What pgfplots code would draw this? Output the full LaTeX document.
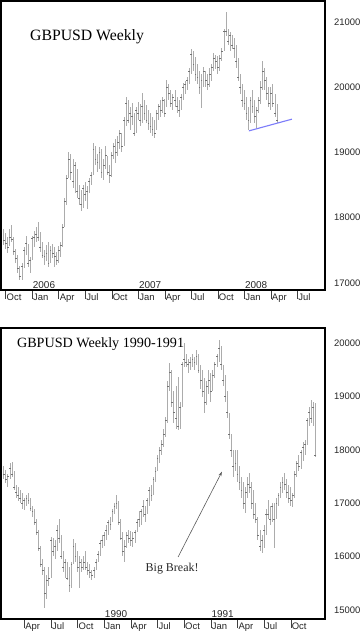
\documentclass[border=0pt]{standalone}
\usepackage{pgfplots}
\pgfplotsset{compat=1.18}
\usepackage{pgfplotstable}
\usepackage{fontspec}
\setmainfont{Liberation Serif}
\newfontfamily\arial{Liberation Sans}
\usetikzlibrary{arrows.meta}

\pgfplotstableread{
w h l c
-14 17820 17580 17650
-13 17760 17520 17600
-12 17700 17450 17550
-11 17820 17560 17700
-10 17890 17620 17660
-9 17700 17420 17480
-8 17520 17300 17380
-7 17420 17150 17220
-6 17260 17040 17100
-5 17300 17050 17250
-4 17550 17230 17500
-3 17720 17420 17600
-2 17600 17250 17300
-1 17400 17150 17350
0 17720 17350 17680
1 17800 17550 17700
2 17860 17620 17750
3 17930 17640 17700
4 17780 17480 17550
5 17620 17380 17420
6 17500 17280 17400
7 17580 17330 17450
8 17620 17240 17300
9 17560 17300 17500
10 17600 17380 17450
11 17550 17250 17400
12 17480 17280 17350
13 17560 17300 17500
14 17620 17400 17580
15 17900 17550 17850
16 18300 17850 18250
17 18650 18200 18600
18 19000 18600 18900
19 18980 18580 18700
20 18900 18450 18550
21 18850 18380 18800
22 18750 18300 18400
23 18500 18200 18300
24 18420 18100 18200
25 18500 18150 18450
26 18550 18250 18350
27 18480 18130 18400
28 18600 18380 18550
29 18700 18500 18650
30 19150 18650 19050
31 19100 18800 18900
32 18980 18700 18850
33 19080 18750 19000
34 19050 18600 18700
35 18900 18580 18800
36 19100 18750 18950
37 18950 18650 18700
38 18800 18530 18650
39 19000 18620 18950
40 19150 18900 19100
41 19200 18840 19000
42 19250 18950 19150
43 19350 19050 19300
44 19300 19000 19100
45 19550 19100 19500
46 19850 19400 19750
47 19800 19450 19500
48 19700 19350 19600
49 19760 19420 19550
50 19600 19250 19300
51 19700 19300 19650
52 19780 19500 19600
53 19750 19400 19500
54 19910 19450 19700
55 19800 19500 19600
56 19720 19450 19500
57 19650 19350 19450
58 19600 19300 19400
59 19550 19250 19350
60 19500 19220 19300
61 19650 19350 19600
62 19750 19500 19700
63 19800 19550 19650
64 19850 19600 19800
65 19820 19550 19600
66 20110 19700 20000
67 20050 19800 19900
68 19950 19700 19750
69 19900 19650 19850
70 19950 19700 19800
71 19850 19600 19700
72 19800 19550 19650
73 19900 19650 19850
74 20060 19800 20000
75 20100 19900 20050
76 20150 19950 20100
77 20300 20050 20250
78 20590 20200 20500
79 20550 20250 20350
80 20460 20100 20200
81 20350 20050 20150
82 20250 19900 20000
83 20200 19680 20100
84 20310 20000 20250
85 20250 20000 20100
86 20200 19950 20050
87 20300 20000 20200
88 20350 20100 20300
89 20520 20250 20450
90 20500 20280 20400
91 20480 20200 20300
92 20500 20250 20450
93 20600 20400 20550
94 20900 20550 20850
95 21150 20780 20850
96 20900 20650 20700
97 20850 20550 20800
98 20800 20580 20650
99 20750 20450 20600
100 20650 20300 20400
101 20450 20100 20150
102 20200 19900 20000
103 20050 19700 19800
104 19950 19650 19750
105 19850 19500 19600
106 19700 19340 19500
107 19850 19450 19800
108 19960 19600 19700
109 19800 19450 19550
110 19700 19370 19650
111 19850 19600 19800
112 20100 19750 20000
113 20400 19950 20250
114 20300 19950 20100
115 20150 19800 19900
116 20000 19700 19750
117 20000 19650 19900
118 20050 19700 19750
119 19900 19550 19600
120 19750 19450 19500
}\topdata

\pgfplotstableread{
w h l c
-49 17700 17450 17550
-48 17620 17380 17450
-47 17550 17300 17500
-46 17750 17450 17650
-45 17770 17500 17550
-44 17600 17250 17300
-43 17350 17100 17200
-42 17300 17050 17150
-41 17250 17000 17100
-40 17200 16900 17000
-39 17100 16870 17050
-38 17150 16950 17100
-37 17190 16980 17050
-36 17100 16850 16900
-35 16950 16750 16850
-34 16900 16600 16650
-33 16700 16400 16450
-32 16500 16100 16150
-31 16200 15800 15850
-30 15950 15650 15750
-29 15800 15030 15300
-28 15650 15200 15550
-27 15800 15450 15600
-26 16370 15600 16300
-25 16350 16000 16100
-24 16300 15950 16200
-23 16600 16100 16500
-22 16710 16250 16350
-21 16400 15950 16000
-20 16100 15700 15800
-19 15950 15600 15900
-18 15900 15550 15600
-17 15800 15330 15450
-16 15900 15400 15850
-15 16330 15850 16200
-14 16250 15900 16000
-13 16100 15700 15800
-12 16000 15410 15900
-11 15950 15700 15800
-10 16000 15750 15900
-9 16100 15750 15800
-8 15900 15650 15750
-7 15850 15600 15700
-6 15750 15560 15650
-5 15800 15600 15750
-4 15950 15750 15900
-3 16100 15900 16050
-2 16300 16000 16250
-1 16400 16150 16300
0 16450 16200 16400
1 16600 16300 16500
2 16690 16400 16650
3 16750 16500 16600
4 16900 16650 16850
5 17000 16800 16950
6 17150 16900 17000
7 17050 16600 16650
8 16700 16300 16350
9 16450 16000 16100
10 16300 15900 16200
11 16450 16150 16400
12 16500 16250 16350
13 16480 16200 16300
14 16450 16180 16350
15 16500 16250 16450
16 16700 16450 16650
17 16850 16550 16700
18 16900 16600 16850
19 17060 16750 16950
20 16950 16650 16800
21 17100 16800 17050
22 17300 16950 17250
23 17350 17050 17150
24 17500 17150 17450
25 17680 17400 17600
26 17900 17600 17850
27 18050 17750 18000
28 18190 17900 18100
29 18400 18050 18300
30 18620 18250 18550
31 19300 18500 19200
32 19630 19100 19450
33 19500 18800 18900
34 19100 18500 18700
35 19200 18400 18600
36 19370 18380 18450
37 18900 18400 18800
38 19650 18800 19600
39 20000 19550 19700
40 19800 19550 19650
41 19700 19440 19600
42 19750 19500 19650
43 19800 19550 19700
44 19750 19500 19650
45 19870 19600 19750
46 19800 19450 19500
47 19600 19150 19300
48 19500 19000 19100
49 19350 18690 18900
50 19300 18850 19200
51 19500 19050 19300
52 19450 18900 19100
53 19500 19100 19400
54 19650 19350 19600
55 19800 19550 19750
56 20060 19650 19900
57 19950 19500 19600
58 19600 19200 19300
59 19400 18900 19000
60 19100 18600 18700
61 18700 18200 18300
62 18300 17870 18000
63 18000 17500 17700
64 18000 17600 17750
65 18000 17400 17550
66 17700 17250 17400
67 17500 17100 17250
68 17400 16900 17000
69 17300 16820 17200
70 17500 17100 17350
71 17570 17200 17300
72 17400 16900 17000
73 17250 16700 16800
74 17000 16630 16700
75 16750 16300 16400
76 16500 16100 16200
77 16400 16070 16300
78 16600 16150 16500
79 16900 16400 16800
80 17060 16700 16800
81 16950 16600 16700
82 17000 16650 16950
83 17000 16160 16700
84 17100 16700 17000
85 17200 16950 17150
86 17400 17100 17300
87 17500 17200 17400
88 17570 17250 17350
89 17450 17100 17200
90 17350 17000 17100
91 17300 16950 17050
92 17200 16930 17150
93 17600 17100 17550
94 17800 17500 17750
95 17900 17600 17700
96 18000 17650 17950
97 18150 17800 18050
98 18190 17900 18100
99 18600 18100 18550
100 18800 18450 18700
101 18940 18500 18600
102 18900 18450 18800
103 18880 17870 17900
}\botdata

\definecolor{trendblue}{RGB}{125,125,250}

\tikzset{yearlbl/.style={anchor=south west, inner sep=0pt, font=\arial\fontsize{10}{11}\selectfont, text=black!85, yshift=1.6bp, xshift=0.5bp}}

\pgfplotsset{
  ohlc/.style={
    scale only axis, width=324bp,
    axis line style={black, line width=1.6bp},
    scaled y ticks=false, scaled x ticks=false,
    yticklabel pos=right,
    ytick style={draw=none},
    yticklabel style={font=\arial\fontsize{9.5}{11}\selectfont, text=black!85, anchor=west, xshift=-3.5bp},
    xtick pos=bottom,
    tick align=outside,
    major tick length=9bp,
    xtick style={black!75, line width=0.5bp},
    xticklabel style={font=\arial\fontsize{9.5}{11}\selectfont, text=black!85, anchor=north west, xshift=-2.5bp, yshift=9bp},
  },
  bars/.style={only marks, mark=-, mark size=0.9bp, mark options={draw=black!55, line width=0.6bp},
    error bars/.cd, y dir=both, y explicit, error mark=none,
    error bar style={draw=gray!65, line width=1.0bp}},
}

\begin{document}
\begin{tikzpicture}
\path[use as bounding box] (0,0) rectangle (360bp,633bp);

\begin{axis}[ohlc, at={(1bp,343bp)}, anchor=south west, height=289bp,
  xmin=-15.3, xmax=143.5, ymin=16890, ymax=21322,
  ytick={17000,18000,19000,20000,21000},
  yticklabels={17000,18000,19000,20000,21000},
  xtick={-13,0,13,26,39,52,65,78,91,104,117,130},
  xticklabels={Oct,Jan,Apr,Jul,Oct,Jan,Apr,Jul,Oct,Jan,Apr,Jul}]
\addplot[bars] table[x=w, y=c, y error plus expr=\thisrow{h}-\thisrow{c}, y error minus expr=\thisrow{c}-\thisrow{l}] {\topdata};
\addplot[trendblue, line width=1.1bp] coordinates {(106.2,19330) (127.3,19510)};
\node[anchor=west, inner sep=0pt, font=\fontsize{15.8}{18}\selectfont] at (rel axis cs:0.0895,0.875) {GBPUSD Weekly};
\node[yearlbl] at (axis cs:0,16890) {2006};
\node[yearlbl] at (axis cs:52,16890) {2007};
\node[yearlbl] at (axis cs:104,16890) {2008};
\end{axis}

\begin{axis}[ohlc, at={(1bp,14bp)}, anchor=south west, height=291bp,
  xmin=-50.4, xmax=107.7, ymin=14827, ymax=20287,
  ytick={15000,16000,17000,18000,19000,20000},
  yticklabels={15000,16000,17000,18000,19000,20000},
  xtick={-39,-26,-13,0,13,26,39,52,65,78,91},
  xticklabels={Apr,Jul,Oct,Jan,Apr,Jul,Oct,Jan,Apr,Jul,Oct}]
\addplot[bars] table[x=w, y=c, y error plus expr=\thisrow{h}-\thisrow{c}, y error minus expr=\thisrow{c}-\thisrow{l}] {\botdata};
\draw[-{Stealth[length=4.5bp,width=3bp]}, black!65, line width=0.6bp] (axis cs:36,15990) -- (axis cs:57.4,17590);
\node[font=\fontsize{12}{14}\selectfont, text=black!85] at (axis cs:33.1,15770) {Big Break!};
\node[anchor=west, inner sep=0pt, font=\fontsize{14.2}{17}\selectfont] at (rel axis cs:0.049,0.945) {GBPUSD Weekly 1990-1991};
\node[yearlbl] at (axis cs:0,14827) {1990};
\node[yearlbl] at (axis cs:52,14827) {1991};
\end{axis}
\end{tikzpicture}
\end{document}
